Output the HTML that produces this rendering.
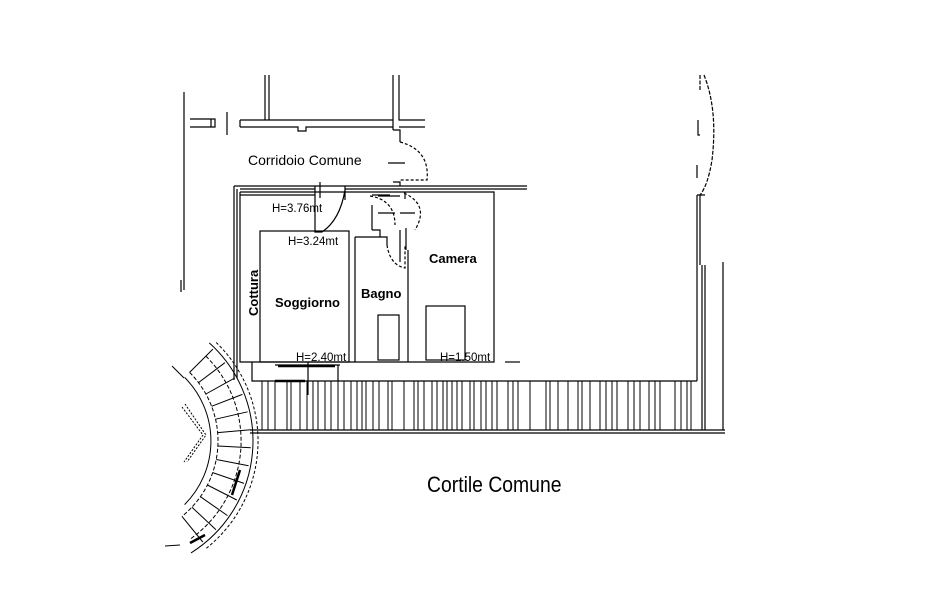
<!DOCTYPE html>
<html><head><style>
html,body{margin:0;padding:0;background:#fff;}
svg{display:block}
text{font-family:"Liberation Sans",sans-serif;fill:#000}
</style></head><body>
<svg width="933" height="604" viewBox="0 0 933 604" xmlns="http://www.w3.org/2000/svg">
<g stroke="#000" stroke-width="1.2" fill="none">
<path d="M184 92V290 M181 280V292"/>
<path d="M190 119H215V127H190 M211 119V127"/>
<path d="M227 112V135"/>
<path d="M240 120H393 M240 127H298V131H306V127H393 M240 120V127"/>
<path d="M265 75V120 M269 75V120"/>
<path d="M393 75V130 M399 75V120H425 M399 127H425"/>
<path d="M393 130H400V142 M393 182H400V186"/>
<path d="M400 142 Q430 150 427 180 H400" stroke-dasharray="3,2"/>
<path d="M388 163H405"/>
<path d="M234 186H527 M234 186V380 M237 189V378 M240 192H494V362H240V192"/>
<path d="M240 189H315 M345 189H527 M240 195H315"/>
<path d="M315 186V232 H322 Q340 220 345 190 M345 186V200" />
<path d="M320 182V198"/>
<path d="M372 195H390 M378 196H400 M405 192V199"/>
<path d="M372 205V230 M378 213H395 M400 213H415"/>
<path d="M404 193 Q430 205 415 230" stroke-dasharray="3,2"/>
<path d="M370 196 Q395 200 395 225" stroke-dasharray="3,2"/>
<path d="M372 230H380V237H387V245 M400 230V262 M406 228V250" />
<path d="M387 245 Q390 265 405 268 V245" stroke-dasharray="3,2"/>
<rect x="260" y="231" width="89" height="131"/>
<path d="M355 237H380 M355 237V362 M408 250V362"/>
<rect x="378" y="315" width="21" height="45"/>
<rect x="426" y="306" width="39" height="54"/>
<path d="M505 362H520"/>
<path d="M697 195V381 M700 195V265 M702 265V430 M705 265V430 M723 262V430 M697 195H705"/>
<path d="M700 75V90 M704 75 Q718 110 712 160 Q708 185 700 195" stroke-dasharray="4,1.5"/>
<path d="M698 120V135H700 M697 165V178"/>
<path d="M252 362V381 H697 M250 430H725 M250 433H725"/>
<path d="M275 365H340 M308 362V395 M338 365V381" />
<path d="M278 366H335" stroke-width="2.5"/>
<path d="M275 381H305" stroke-width="2.5"/>
</g>
<g stroke="#000" stroke-width="1">
<path d="M262 381V430 M268 381V430 M275 381V430 M287 381V430 M291 381V430 M300 381V430 M307 381V430 M313 381V430 M318 381V430 M325 381V430 M331 381V430 M338 381V430 M344 381V430 M351 381V430 M357 381V430 M362 381V430 M366 381V430 M373 381V430 M379 381V430 M388 381V430 M392 381V430 M404 381V430 M414 381V430 M418 381V430 M424 381V430 M432 381V430 M437 381V430 M443 381V430 M447 381V430 M452 381V430 M457 381V430 M462 381V430 M470 381V430 M474 381V430 M481 381V430 M486 381V430 M492 381V430 M497 381V430 M508 381V430 M513 381V430 M518 381V430 M530 381V430 M546 381V430 M550 381V430 M558 381V430 M568 381V430 M578 381V430 M582 381V430 M590 381V430 M600 381V430 M606 381V430 M612 381V430 M617 381V430 M628 381V430 M634 381V430 M640 381V430 M649 381V430 M655 381V430 M660 381V430 M675 381V430 M681 381V430 M687 381V430 M691 381V430"/>
</g>
<!-- staircase centered (121,441) -->
<g stroke="#000" stroke-width="1" fill="none">
<path d="M184.6 377.4 A90 90 0 0 1 184.6 504.6"/>
<path d="M189.6 372.4 A97 97 0 0 1 182 516.4" stroke-dasharray="4,2"/>
<path d="M205.9 356.1 A120 120 0 0 1 189.9 539.3" stroke-dasharray="4,2"/>
<path d="M209.3 342.9 A132 132 0 0 1 191 552.9"/>
<path d="M216.2 342.5 A137 137 0 0 1 205.4 549" stroke-dasharray="3,2"/>
<path d="M182 407 L203 435 L184 462 M185 404 L206 435 L187 462" stroke-dasharray="2,1.5"/>
<path d="M189.6 372.4L212.9 349.1 M198.5 382.6L224.9 362.7 M205.9 394L234.7 378 M211.6 406.3L242.4 394.4 M215.5 419.2L247.6 411.8 M217.6 432.6L250.5 429.7 M217.9 446L250.8 447.8 M216.3 459.5L248.6 465.8 M212.7 472.6L244 483.4 M207.4 485L236.8 500 M200.4 496.7L227.5 515.6 M191.9 507.2L216 529.7 M182 516.4L202.8 542"/>
<path d="M180 545 L165 546 M184 378 L172 366"/>
<path d="M240 470 L232 495 M205 535 L190 543" stroke-width="2.5"/>
</g>
<text x="248" y="165" font-size="14">Corridoio Comune</text>
<text x="0" y="0" font-size="13" font-weight="bold" transform="translate(258,316) rotate(-90)">Cottura</text>
<text x="275" y="307" font-size="13" font-weight="bold">Soggiorno</text>
<text x="361" y="298" font-size="13" font-weight="bold">Bagno</text>
<text x="429" y="263" font-size="13" font-weight="bold">Camera</text>
<text x="272" y="212" font-size="11.5">H=3.76mt</text>
<text x="288" y="245" font-size="11.5">H=3.24mt</text>
<text x="296" y="361" font-size="11.5">H=2.40mt</text>
<text x="440" y="361" font-size="11.5">H=1.50mt</text>
<text x="0" y="0" font-size="22" transform="translate(427,492) scale(0.88,1)">Cortile Comune</text>
</svg>
</body></html>
